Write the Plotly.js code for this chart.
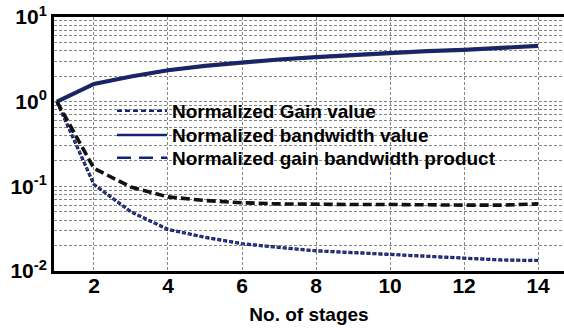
<!DOCTYPE html>
<html>
<head>
<meta charset="utf-8">
<script src="https://cdn.plot.ly/plotly-3.0.1.min.js"></script>
<style>html,body{margin:0;padding:0;background:#fff;}#chart{width:564px;height:328px;}</style>
</head>
<body>
<div id="chart"></div>
<script>
// Data
const stages = [1, 2, 3, 4, 5, 6, 7, 8, 9, 10, 11, 12, 13, 14];
const gainValue = [1.0, 0.105, 0.050, 0.031, 0.025, 0.021, 0.019, 0.0173, 0.0165, 0.0157, 0.0148, 0.0140, 0.0135, 0.0133];
const bandwidthValue = [1.0, 1.62, 1.98, 2.35, 2.65, 2.92, 3.15, 3.35, 3.55, 3.80, 3.95, 4.10, 4.30, 4.55];
const gbwProduct = [1.0, 0.163, 0.098, 0.075, 0.068, 0.064, 0.062, 0.061, 0.061, 0.061, 0.060, 0.060, 0.060, 0.062];

const seriesNames = ["Normalized Gain value", "Normalized bandwidth value", "Normalized gain bandwidth product"];

const xTickVals = [2, 4, 6, 8, 10, 12, 14];
const xTickText = ["2", "4", "6", "8", "10", "12", "14"];
const yDecades = [0.01, 0.1, 1, 10];
const yDecadeLabels = ["10<sup>-2</sup>", "10<sup>-1</sup>", "10<sup>0</sup>", "10<sup>1</sup>"];
const yMinorMultipliers = [2, 3, 4, 5, 6, 7, 8, 9];
const xTitle = "No. of stages";

// Build y tick positions (decades labelled, minor positions unlabelled grid lines)
const yTickVals = [];
const yTickText = [];
yDecades.forEach((d, i) => {
  yTickVals.push(d); yTickText.push(yDecadeLabels[i]);
  if (d < 10) {
    yMinorMultipliers.forEach(m => { yTickVals.push(d * m); yTickText.push(""); });
  }
});

const navy = "#14237a";
const blue = "#2637b8";
const FONT = "Liberation Sans, Arial, sans-serif";

const traces = [
  // Gain: black dashes with blue dots
  {x: stages, y: gainValue, mode: "lines", showlegend: false, hoverinfo: "skip",
   line: {color: "#111", width: 3.2, dash: "4px,2px"}},
  {x: stages, y: gainValue, mode: "lines", showlegend: false,
   line: {color: blue, width: 2.4, dash: "dot"}},
  // Bandwidth: navy with dark edge
  {x: stages, y: bandwidthValue, mode: "lines", showlegend: false, hoverinfo: "skip",
   line: {color: "#333", width: 4.2}},
  {x: stages, y: bandwidthValue, mode: "lines", showlegend: false,
   line: {color: navy, width: 2.8}},
  // Gain bandwidth product: black long dash
  {x: stages, y: gbwProduct, mode: "lines", showlegend: false,
   line: {color: "#111", width: 3.6, dash: "9px,4px"}},
  // Legend entries
  {x: [null], y: [null], mode: "lines", name: seriesNames[0], legend: "legend",
   line: {color: navy, width: 2.5, dash: "5px,3px"}},
  {x: [null], y: [null], mode: "lines", name: seriesNames[1], legend: "legend2",
   line: {color: navy, width: 2.5}},
  {x: [null], y: [null], mode: "lines", name: seriesNames[2], legend: "legend3",
   line: {color: navy, width: 2.5, dash: "14px,8px"}}
];

const gridStyle = {gridcolor: "#858585", gridwidth: 1, griddash: "3px,2px"};

function legendAt(yc) {
  return {
    x: 0.1137, y: yc, xanchor: "left", yanchor: "middle",
    bgcolor: "rgba(0,0,0,0)", borderwidth: 0, itemwidth: 50,
    font: {family: FONT, size: 19, color: "#000", weight: "bold"}
  };
}

const layout = {
  width: 564, height: 328,
  margin: {l: 54, r: 0, t: 17, b: 57},
  paper_bgcolor: "#fff", plot_bgcolor: "#fff",
  showlegend: true,
  legend: legendAt(0.630),
  legend2: legendAt(0.535),
  legend3: legendAt(0.445),
  shapes: [{
    type: "rect", xref: "paper", yref: "paper",
    x0: 0.1137, x1: 0.949, y0: 0.374, y1: 0.740,
    fillcolor: "#fff", line: {width: 0}, layer: "between"
  }],
  xaxis: Object.assign({
    type: "linear", range: [0.92, 14.7],
    tickmode: "array", tickvals: xTickVals, ticktext: xTickText,
    showline: true, linecolor: "#000", linewidth: 3, mirror: true,
    ticks: "", zeroline: false, showgrid: true, ticklabelstandoff: -6,
    tickfont: {family: FONT, size: 21, color: "#000", weight: "bold"},
    title: {text: xTitle, standoff: 12, font: {family: FONT, size: 19, color: "#000", weight: "bold"}}
  }, gridStyle),
  yaxis: Object.assign({
    type: "log", range: [-2, 1],
    tickmode: "array", tickvals: yTickVals, ticktext: yTickText,
    showline: true, linecolor: "#000", linewidth: 3, mirror: false,
    ticks: "", zeroline: false, showgrid: true,
    tickfont: {family: FONT, size: 21, color: "#000", weight: "bold"}
  }, gridStyle)
};

Plotly.newPlot("chart", traces, layout, {displayModeBar: false, staticPlot: true});
</script>
</body>
</html>
